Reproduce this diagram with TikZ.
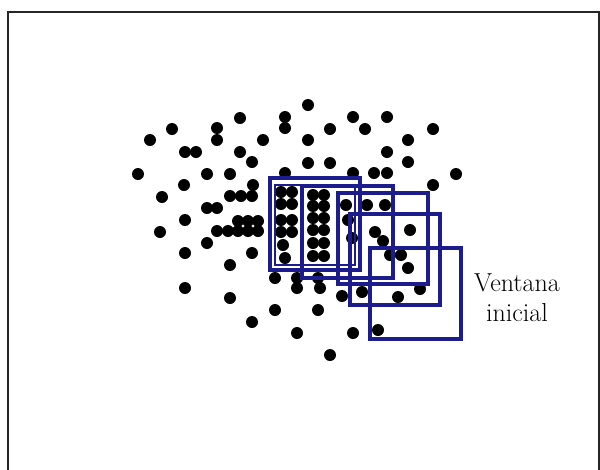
\documentclass[tikz,border=0pt]{standalone}
\usepackage{tikz}
\definecolor{winblue}{RGB}{28,28,140}
\begin{document}
\begin{tikzpicture}[x=1pt,y=-1pt,
    dot/.style={fill=black},
    window/.style={draw=winblue,line width=4.6pt}]
  \useasboundingbox (0,0) rectangle (600,469);
  \clip (0,0) rectangle (600,469);

  % marco
  \draw[line width=1.6pt,black!85] (8,480) -- (8,12) -- (599,12) -- (599,480);

  % nube de puntos
  \foreach \x/\y in {308/105, 240/118, 285/117, 285/128, 172/129, 217/128, 330/129,
      353/117, 365/129, 387/117, 433/129,
      150/140, 217/140, 263/140, 308/140, 408/140,
      185/152, 196/152, 240/152, 387/152,
      252/162, 308/163, 330/163, 408/162,
      138/174, 207/174, 230/174, 285/173, 353/173, 374/173, 387/173, 456/174,
      184/185, 253/185, 433/185,
      162/197, 230/196, 241/196, 252/196,
      207/208, 217/208, 185/220, 238/221, 248/221, 258/221,
      160/232, 217/231, 228/231, 238/231, 248/231, 258/231,
      207/243, 185/253, 252/253, 230/265,
      275/278, 297/278, 318/278, 297/288, 320/288, 185/288,
      230/298, 342/296, 275/310, 318/310, 252/322, 297/333, 353/333, 330/355,
      % dentro de las ventanas
      281/192, 292/192, 281/204, 292/204, 281/220, 292/220, 281/232, 292/232,
      283/245, 285/258,
      313/195, 324/195, 313/206, 324/206, 313/218, 324/218, 313/230, 324/230,
      313/243, 324/243, 313/256, 324/256,
      346/205, 348/220, 352/238, 367/205, 385/205,
      375/232, 383/241, 410/230, 390/255, 401/255, 408/268,
      362/292, 398/297, 420/289, 378/330}
    \fill[dot] (\x,\y) circle (6);

  % ventanas desplazadas
  \foreach \xa/\ya/\xb/\yb in {370/248/461/339, 350/214/440/305, 338/193/428/284,
      302/186/393/278, 270/178/360/270}
    \draw[window] (\xa,\ya) rectangle (\xb,\yb);
  \draw[winblue,line width=2.4pt] (275,185) rectangle (355,265);

  \node[font=\fontsize{26}{30}\selectfont,align=center] (inicial) at (517,298) {Ventana\\inicial};
\end{tikzpicture}
\end{document}
